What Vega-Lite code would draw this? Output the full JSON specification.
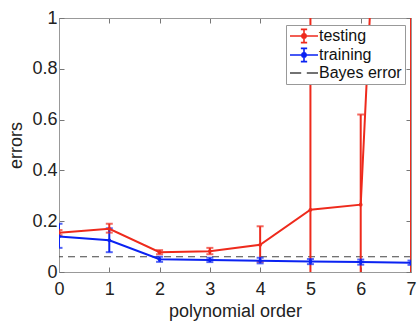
{
  "$schema": "https://vega.github.io/schema/vega-lite/v6.json",
  "width": 352,
  "height": 254,
  "autosize": "none",
  "padding": {"left": 59, "top": 18, "right": 6, "bottom": 50},
  "background": "white",
  "config": {
    "font": "Liberation Sans",
    "view": {"stroke": "#999", "strokeWidth": 1},
    "axis": {"grid": false, "domainColor": "#999", "tickColor": "#777", "tickWidth": 1, "labelColor": "#222", "titleColor": "#222", "labelFont": "Liberation Sans", "titleFont": "Liberation Sans", "titleFontWeight": "normal"}
  },
  "datasets": {
    "errs": [
      {"order": 0, "series": "testing", "err": 0.155, "lo": 0.145, "hi": 0.165},
      {"order": 1, "series": "testing", "err": 0.170, "lo": 0.155, "hi": 0.190},
      {"order": 2, "series": "testing", "err": 0.078, "lo": 0.070, "hi": 0.086},
      {"order": 3, "series": "testing", "err": 0.082, "lo": 0.070, "hi": 0.095},
      {"order": 4, "series": "testing", "err": 0.107, "lo": 0.040, "hi": 0.180},
      {"order": 5, "series": "testing", "err": 0.245, "lo": -1.2, "hi": 1.7},
      {"order": 6, "series": "testing", "err": 0.265, "lo": -0.09, "hi": 0.62},
      {"order": 7, "series": "testing", "err": 4.35, "lo": -1.0, "hi": 9.7},
      {"order": 0, "series": "training", "err": 0.140, "lo": 0.095, "hi": 0.190},
      {"order": 1, "series": "training", "err": 0.125, "lo": 0.078, "hi": 0.172},
      {"order": 2, "series": "training", "err": 0.050, "lo": 0.040, "hi": 0.060},
      {"order": 3, "series": "training", "err": 0.047, "lo": 0.039, "hi": 0.056},
      {"order": 4, "series": "training", "err": 0.044, "lo": 0.034, "hi": 0.056},
      {"order": 5, "series": "training", "err": 0.041, "lo": 0.031, "hi": 0.051},
      {"order": 6, "series": "training", "err": 0.039, "lo": 0.029, "hi": 0.049},
      {"order": 7, "series": "training", "err": 0.036, "lo": 0.028, "hi": 0.045}
    ],
    "bayes": [{"series": "Bayes error", "err": 0.06}]
  },
  "layer": [
    {
      "data": {"name": "bayes"},
      "mark": {"type": "rule", "strokeDash": [7, 5], "strokeWidth": 1.2, "clip": true},
      "encoding": {
        "y": {"field": "err", "type": "quantitative", "scale": {"domain": [0, 1], "nice": false}, "axis": null},
        "color": {"field": "series", "type": "nominal"}
      }
    },
    {
      "data": {"name": "errs"},
      "mark": {"type": "rule", "strokeWidth": 2, "clip": true},
      "encoding": {
        "x": {"field": "order", "type": "quantitative", "axis": null},
        "y": {"field": "lo", "type": "quantitative", "axis": null},
        "y2": {"field": "hi"},
        "color": {"field": "series", "type": "nominal"}
      }
    },
    {
      "data": {"name": "errs"},
      "mark": {"type": "tick", "orient": "horizontal", "size": 7, "thickness": 2, "clip": true},
      "encoding": {
        "x": {"field": "order", "type": "quantitative", "axis": null},
        "y": {"field": "lo", "type": "quantitative", "axis": null},
        "color": {"field": "series", "type": "nominal"}
      }
    },
    {
      "data": {"name": "errs"},
      "mark": {"type": "tick", "orient": "horizontal", "size": 7, "thickness": 2, "clip": true},
      "encoding": {
        "x": {"field": "order", "type": "quantitative", "axis": null},
        "y": {"field": "hi", "type": "quantitative", "axis": null},
        "color": {"field": "series", "type": "nominal"}
      }
    },
    {
      "data": {"name": "errs"},
      "mark": {"type": "line", "strokeWidth": 2, "clip": true},
      "encoding": {
        "x": {"field": "order", "type": "quantitative", "scale": {"domain": [0, 7], "nice": false},
              "axis": {"orient": "bottom", "title": "polynomial order", "values": [0,1,2,3,4,5,6,7], "tickSize": -5, "labelPadding": 13, "labelFontSize": 18, "titleFontSize": 18, "titlePadding": 4, "labelFlush": false}},
        "y": {"field": "err", "type": "quantitative", "scale": {"domain": [0, 1], "nice": false},
              "axis": {"orient": "left", "title": "errors", "values": [0, 0.2, 0.4, 0.6, 0.8, 1], "format": "~g", "tickSize": -5, "labelPadding": 7, "labelFontSize": 18, "titleFontSize": 18, "titlePadding": 6, "labelFlush": false}},
        "color": {
          "field": "series", "type": "nominal",
          "scale": {"domain": ["testing", "training", "Bayes error"], "range": ["#ee2a1c", "#0a22f2", "#444444"]},
          "legend": {
            "title": null, "orient": "none", "legendX": 227, "legendY": 7,
            "labelFontSize": 16, "labelColor": "#111", "labelOffset": 14, "rowPadding": -1,
            "strokeColor": "#999", "fillColor": "white", "padding": 3,
            "symbolSize": 196,
            "encode": {
              "symbols": {"update": {
                "shape": [{"test": "datum.value === 'Bayes error'", "value": "M-1,0H0.6M1.4,0H3"}, {"value": "M-1,0H3M1,-0.95V0.95M0.55,-0.95H1.45M0.55,0.95H1.45M1.3,0A0.3,0.3 0 1 1 0.7,0A0.3,0.3 0 1 1 1.3,0"}],
                "strokeWidth": {"value": 1.6},
                "fill": {"value": "transparent"},
                "opacity": {"value": 1}
              }}
            }
          }
        }
      }
    },
    {
      "data": {"name": "errs"},
      "mark": {"type": "point", "filled": true, "size": 14, "opacity": 1, "clip": true},
      "encoding": {
        "x": {"field": "order", "type": "quantitative", "axis": {"orient": "top", "title": null, "labels": false, "domain": true, "ticks": true, "values": [0,1,2,3,4,5,6,7], "tickSize": -5}},
        "y": {"field": "err", "type": "quantitative", "axis": {"orient": "right", "title": null, "labels": false, "domain": true, "ticks": true, "values": [0, 0.2, 0.4, 0.6, 0.8, 1], "tickSize": -5}},
        "color": {"field": "series", "type": "nominal"}
      }
    }
  ],
  "resolve": {"axis": {"x": "independent", "y": "independent"}}
}
